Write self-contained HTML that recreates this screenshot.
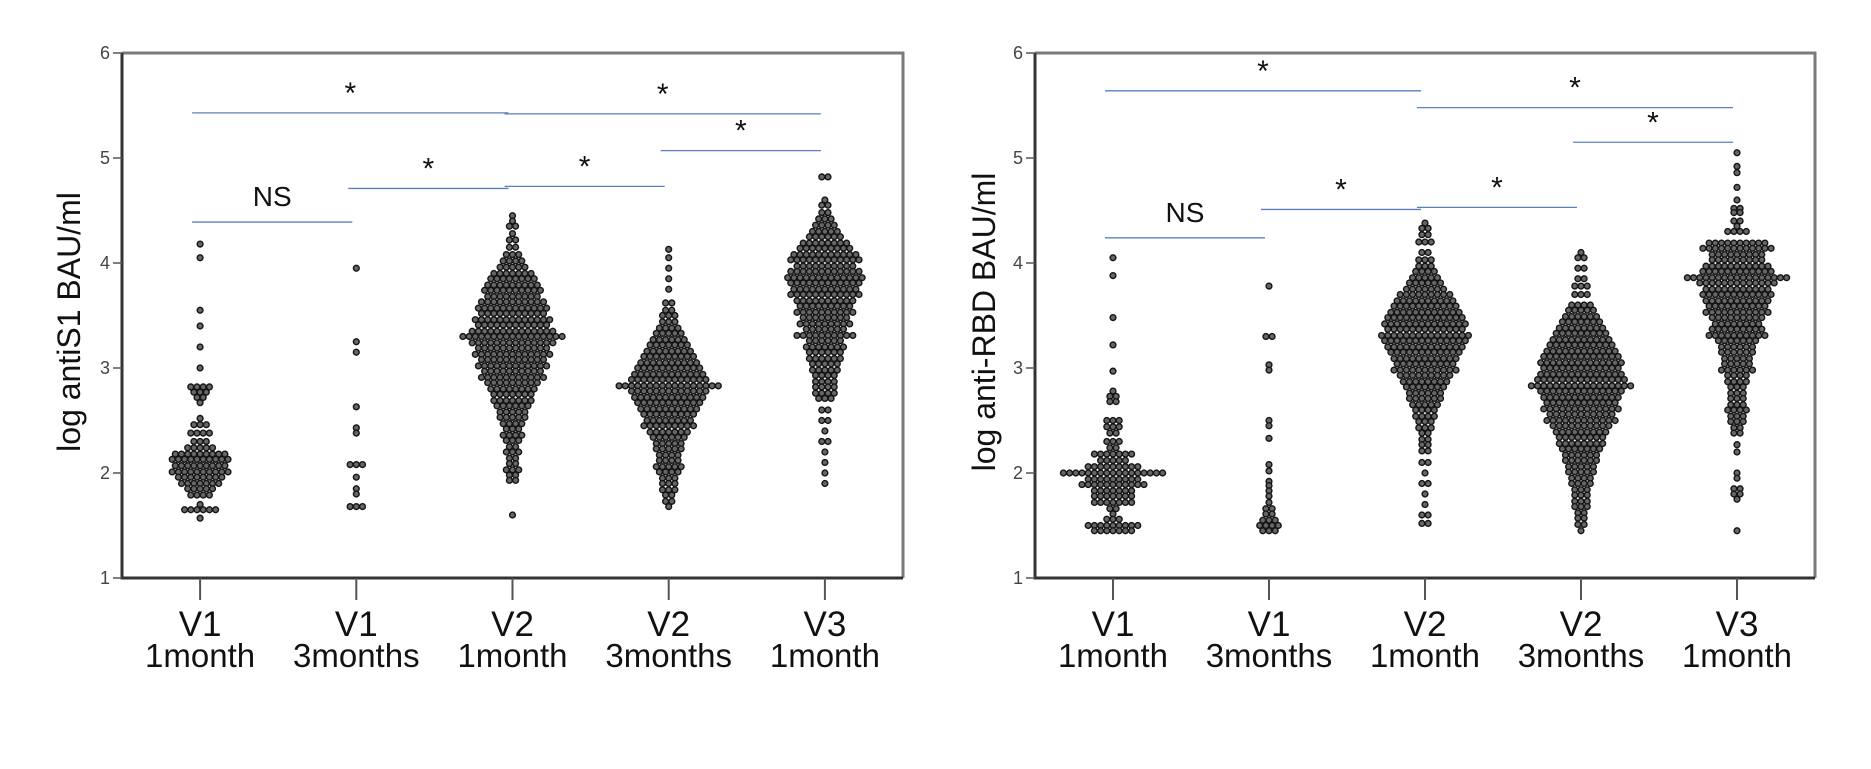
<!DOCTYPE html>
<html><head><meta charset="utf-8"><style>
html,body{margin:0;padding:0;background:#fff;width:1871px;height:769px;overflow:hidden}
svg{display:block;font-family:"Liberation Sans",sans-serif}
</style></head><body>
<svg id="c" width="1871" height="769" viewBox="0 0 1871 769"></svg>
<script>
const categories=[["V1","1month"],["V1","3months"],["V2","1month"],["V2","3months"],["V3","1month"]];
const yTicks=[1,2,3,4,5,6];
// left panel groups: levels + counts
const sL0v=[4.18,4.05,3.55,3.40,3.20,3.00,2.82,2.77,2.72,2.67,2.52,2.46,2.38,2.30,2.24,2.18,2.13,2.07,2.01,1.96,1.90,1.85,1.79,1.70,1.65,1.57];
const sL0c=[1,1,1,1,1,1,4,3,2,1,1,3,4,3,5,9,10,9,10,8,7,5,4,1,6,1];
const sL1v=[3.95,3.25,3.15,2.63,2.43,2.38,2.08,1.96,1.85,1.80,1.68];
const sL1c=[1,1,1,1,1,1,3,1,1,1,3];
const sL2v=[4.45,4.40,4.35,4.28,4.22,4.15,4.08,4.02,3.96,3.90,3.85,3.79,3.74,3.68,3.63,3.57,3.52,3.46,3.41,3.35,3.30,3.24,3.19,3.13,3.08,3.02,2.97,2.91,2.86,2.80,2.75,2.69,2.64,2.58,2.53,2.47,2.42,2.36,2.31,2.25,2.20,2.14,2.09,2.03,1.98,1.93,1.60];
const sL2c=[1,1,2,1,2,2,3,4,5,7,8,9,10,9,11,12,11,13,12,14,17,14,12,13,11,12,10,11,9,8,7,7,6,5,5,4,3,4,3,2,3,2,2,3,2,2,1];
const sL3v=[4.13,4.05,3.95,3.85,3.75,3.62,3.55,3.50,3.44,3.38,3.33,3.27,3.22,3.16,3.11,3.05,3.00,2.94,2.89,2.83,2.78,2.72,2.67,2.61,2.56,2.50,2.45,2.39,2.34,2.28,2.23,2.17,2.12,2.06,2.01,1.95,1.90,1.84,1.79,1.73,1.68];
const sL3c=[1,1,1,1,1,2,2,3,3,4,5,6,7,8,9,10,11,12,13,17,13,12,11,10,9,8,9,7,6,5,5,4,4,5,4,3,3,3,2,2,1];
const sL4v=[4.82,4.60,4.55,4.48,4.42,4.36,4.30,4.25,4.19,4.14,4.08,4.03,3.97,3.92,3.86,3.81,3.75,3.70,3.64,3.59,3.53,3.48,3.42,3.37,3.31,3.26,3.20,3.15,3.09,3.04,2.98,2.93,2.87,2.82,2.76,2.71,2.60,2.50,2.40,2.30,2.20,2.10,2.00,1.90];
const sL4c=[2,1,2,2,3,4,5,6,8,9,11,12,10,12,13,12,11,12,10,9,10,8,9,7,10,6,7,6,6,5,5,4,4,4,4,3,2,2,1,2,1,1,1,1];
// right panel groups
const sR0v=[4.05,3.88,3.48,3.22,2.97,2.78,2.73,2.68,2.50,2.44,2.38,2.30,2.24,2.18,2.12,2.06,2.00,1.94,1.89,1.83,1.78,1.72,1.66,1.61,1.56,1.50,1.45];
const sR0c=[1,1,1,1,1,1,2,2,3,3,2,3,2,7,5,9,17,9,11,7,7,7,2,1,3,9,7];
const sR1v=[3.78,3.30,3.03,2.98,2.50,2.45,2.33,2.08,2.02,1.92,1.88,1.83,1.78,1.72,1.66,1.61,1.55,1.50,1.45];
const sR1c=[1,2,1,1,1,1,1,1,1,1,1,1,1,1,2,2,3,4,3];
const sR2v=[4.38,4.33,4.27,4.20,4.10,4.03,3.97,3.92,3.86,3.81,3.75,3.70,3.64,3.59,3.53,3.48,3.42,3.37,3.31,3.26,3.20,3.15,3.09,3.04,2.98,2.93,2.87,2.82,2.76,2.71,2.65,2.60,2.54,2.49,2.43,2.38,2.32,2.27,2.21,2.10,2.00,1.90,1.80,1.70,1.60,1.52];
const sR2c=[1,2,2,3,2,3,3,4,5,6,7,9,10,11,12,13,14,13,15,14,13,12,11,10,11,9,8,7,6,6,5,4,4,3,3,2,2,2,2,2,1,2,1,1,2,2];
const sR3v=[4.10,4.05,3.95,3.85,3.78,3.70,3.60,3.55,3.49,3.44,3.38,3.33,3.27,3.22,3.16,3.11,3.05,3.00,2.94,2.89,2.83,2.78,2.72,2.67,2.61,2.56,2.50,2.45,2.39,2.34,2.28,2.23,2.17,2.12,2.06,2.01,1.95,1.90,1.84,1.79,1.73,1.68,1.62,1.57,1.51,1.45];
const sR3c=[1,2,2,2,3,3,4,5,6,7,8,9,10,11,12,13,14,13,14,15,17,14,13,12,13,11,12,10,9,8,8,7,6,6,5,5,4,4,3,3,3,3,2,2,2,1];
const sR4v=[5.05,4.92,4.86,4.72,4.60,4.52,4.48,4.40,4.35,4.30,4.19,4.14,4.08,4.03,3.97,3.92,3.86,3.81,3.75,3.70,3.64,3.59,3.53,3.48,3.42,3.37,3.31,3.26,3.20,3.15,3.09,3.04,2.98,2.93,2.87,2.82,2.76,2.71,2.65,2.60,2.54,2.49,2.43,2.38,2.27,2.20,2.00,1.95,1.85,1.80,1.75,1.45];
const sR4c=[1,1,1,1,1,2,2,2,1,4,10,12,9,9,11,12,17,13,11,12,11,10,11,9,8,9,10,7,6,6,5,5,6,4,4,3,3,3,3,4,3,3,2,2,1,1,1,1,2,2,1,1];
// significance brackets: [fromCat, toCat, yValue, label]
const sigLeft=[[0,2,5.43,"*"],[2,4,5.42,"*"],[0,1,4.39,"NS"],[1,2,4.71,"*"],[2,3,4.73,"*"],[3,4,5.07,"*"]];
const sigRight=[[0,2,5.64,"*"],[2,4,5.48,"*"],[0,1,4.24,"NS"],[1,2,4.51,"*"],[2,3,4.53,"*"],[3,4,5.15,"*"]];

const NS="http://www.w3.org/2000/svg";
const svg=document.getElementById('c');
function mk(tag,attrs,parent){const e=document.createElementNS(NS,tag);for(const k in attrs)e.setAttribute(k,attrs[k]);(parent||svg).appendChild(e);return e;}

function panel(px0,px1,title,titleX,groups,sig,pname){
  const top=53,bot=578;
  const y=v=>bot-(v-1)*(bot-top)/5;
  const step=(px1-px0)/5;
  const x=i=>px0+step*(i+0.5);
  const g=mk('g',{});
  
  
  const fr1=mk('path',{d:`M${px0} ${top}H${px1}V${bot}`,fill:'none',stroke:'#7a7a7a','stroke-width':3},g);
  
  
  const ax=mk('path',{d:`M${px0} ${top}V${bot}H${px1}`,fill:'none',stroke:'#333','stroke-width':3},g);
  
  
  yTicks.forEach(t=>{
    mk('line',{x1:px0-9,x2:px0,y1:y(t),y2:y(t),stroke:'#555','stroke-width':1.5},g);
    const tx=mk('text',{x:px0-12,y:y(t)+6,'text-anchor':'end','font-size':18,fill:'#444'},g);
    tx.textContent=t;
    
    
  });
  categories.forEach((c,i)=>{
    mk('line',{x1:x(i),x2:x(i),y1:bot,y2:bot+22,stroke:'#555','stroke-width':2},g);
    const t1=mk('text',{x:x(i),y:636,'text-anchor':'middle','font-size':35,fill:'#111'},g);
    t1.textContent=c[0];
    
    
    const t2=mk('text',{x:x(i),y:667,'text-anchor':'middle','font-size':33,fill:'#111'},g);
    t2.textContent=c[1];
    
    
  });
  const yt=mk('text',{x:0,y:0,'text-anchor':'middle','font-size':32,fill:'#111',transform:`translate(${titleX},322) rotate(-90)`},g);
  yt.textContent=title;
  
  
  groups.forEach((gr,i)=>{
    const vals=gr[0],cnt=gr[1];
    const gg=mk('g',{},g);
    
    
    vals.forEach((v,j)=>{
      const n=cnt[j];
      for(let k=0;k<n;k++){
        const c=mk('circle',{cx:x(i)+(k-(n-1)/2)*6.2,cy:y(v),r:2.9,fill:'#666',stroke:'#141414','stroke-width':1.4},gg);
        
        
      }
    });
  });
  sig.forEach(s=>{
    const xa=x(s[0])-8,xb=x(s[1])-4;
    const l=mk('line',{x1:xa,x2:xb,y1:y(s[2]),y2:y(s[2]),stroke:'#5b7fc0','stroke-width':1.3},g);
    
    
    const isNS=s[3]==="NS";
    const t=mk('text',{x:(xa+xb)/2,y:y(s[2])-(isNS?16:10),'text-anchor':'middle','font-size':isNS?28:30,fill:'#111'},g);
    t.textContent=s[3];
    
    
  });
}
panel(122,903,"log antiS1 BAU/ml",80,[[sL0v,sL0c],[sL1v,sL1c],[sL2v,sL2c],[sL3v,sL3c],[sL4v,sL4c]],sigLeft,'left-panel-anti-s1');
panel(1035,1815,"log anti-RBD BAU/ml",995,[[sR0v,sR0c],[sR1v,sR1c],[sR2v,sR2c],[sR3v,sR3c],[sR4v,sR4c]],sigRight,'right-panel-anti-rbd');
</script>
</body></html>
